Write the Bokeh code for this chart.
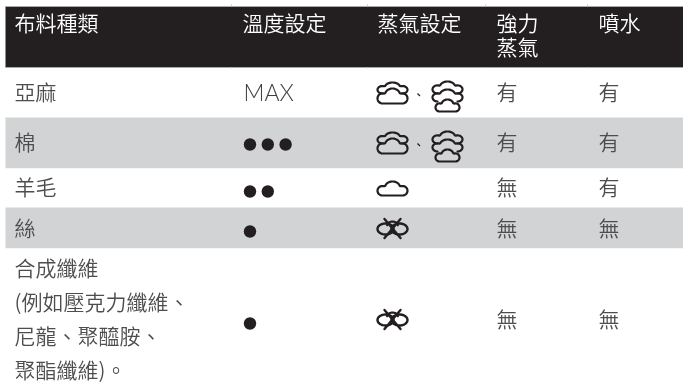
import numpy as np
from bokeh.plotting import figure
from bokeh.models import Range1d
from bokeh.core.properties import value
from bokeh.embed import file_html
from bokeh.resources import INLINE

# ---- table content
columns = ["布料種類", "溫度設定", "蒸氣設定", "強力\n蒸氣", "噴水"]
fabrics = [["亞麻"], ["棉"], ["羊毛"], ["絲"],
           ["合成纖維", "(例如壓克力纖維、", "尼龍、聚醯胺、", "聚酯纖維)。"]]
temperature_dots = [0, 3, 2, 1, 1]
temperature_text = ["MAX", "", "", "", ""]
steam_setting = ["both", "both", "low", "none", "none"]
burst = ["有", "有", "無", "無", "無"]
spray = ["有", "有", "有", "無", "無"]

# ---- layout
W, H = 683, 382
col_x = [14, 242, 377, 496, 598]
col_edges = [231, 367, 485, 587]
row_edges = [67, 117, 168, 207, 248, 382]
row_fill = ["#ffffff", "#d1d3d4", "#ffffff", "#d1d3d4", "#ffffff"]
row_y = [92, 142, 187, 228, 319]
dot_y = [94, 144, 191, 231, 323]
header_top = 6
DARK = "#231f20"
TXT = "#4d4d4f"
CJK = value("Noto Sans CJK TC DemiLight")
FS = "21px"

p = figure(width=W, height=H, output_backend="svg", toolbar_location=None,
           x_range=Range1d(0, W), y_range=Range1d(H, 0), min_border=0,
           outline_line_color=None, background_fill_color="#ffffff")
p.axis.visible = False
p.grid.visible = False
p.styles = {"position": "fixed", "left": "0px", "top": "0px"}

# backgrounds
p.quad(left=5, right=W, top=header_top, bottom=row_edges[0], color=DARK, line_color=None)
p.quad(left=[5] * 5, right=[W] * 5, top=row_edges[:-1], bottom=row_edges[1:],
       color=row_fill, line_color=None)
p.segment(x0=[5, 5], x1=[W, W], y0=[header_top, row_edges[0]], y1=[header_top, row_edges[0]],
          line_color="#a7a9ac", line_width=1)
p.segment(x0=col_edges * 2, x1=col_edges * 2,
          y0=[header_top - 2] * 4 + [row_edges[0]] * 4,
          y1=[header_top] * 4 + [row_edges[0] + 1] * 4,
          line_color="#c8c8c8", line_width=1)


def txt(xs, ys, ss, color=TXT, font=CJK, size=FS):
    p.text(x=xs, y=ys, text=ss, text_color=color, text_font=font, text_font_size=size,
           text_align="left", text_baseline="middle")


# header
hx, hy, hs = [], [], []
for x, c in zip(col_x, columns):
    for i, line in enumerate(c.split("\n")):
        hx.append(x); hy.append(21 + i * 24.5); hs.append(line)
txt(hx, hy, hs, color="#ffffff")

# fabric column
fx, fy, fs = [], [], []
for y, lines in zip(row_y, fabrics):
    n = len(lines)
    for i, line in enumerate(lines):
        fx.append(col_x[0]); fy.append(y - 2 + (i - (n - 1) / 2) * 34); fs.append(line)
txt(fx, fy, fs)

# temperature
for y, t in zip(row_y, temperature_text):
    if t:
        txt([col_x[1] + 1], [y - 1], [t], font=value("Lato Light"), size="23px", color="#3f3f41")
dx, dy = [], []
for y, n in zip(dot_y, temperature_dots):
    for i in range(n):
        dx.append(243 + 6.5 + i * 17.8); dy.append(y)
p.circle(x=dx, y=dy, radius=6.2, color=DARK, line_color=None)

# burst / spray
by = [y - 2 for y in row_y]
txt([col_x[3]] * 5, by, burst)
txt([col_x[4]] * 5, by, spray)


# icons
def arc(cx, cy, rx, ry, a0, a1, n=18):
    t = np.radians(np.linspace(a0, a1, n))
    return cx + rx * np.cos(t), cy + ry * np.sin(t)


def cap(cx, y, w, h):
    """Upper silhouette of a cloud: side lobes and a centre bump; y is the lobes' bottom."""
    k = w / 30
    a = arc(cx - 10 * k, y - .34 * h, 5 * k, .34 * h, 90, 290)
    b = arc(cx, y - .58 * h, 7.5 * k, .42 * h, 195, 345)
    c = arc(cx + 10 * k, y - .34 * h, 5 * k, .34 * h, 250, 450)
    return np.r_[a[0], b[0], c[0]], np.r_[a[1], b[1], c[1]]


def cloud(cx, y, w, h):
    xs, ys = cap(cx, y, w, h)
    return np.r_[xs, xs[0]], np.r_[ys, ys[0]]


def draw(xs, ys, lw=2.2):
    p.line(x=xs, y=ys, line_color=DARK, line_width=lw, line_join="round", line_cap="round")


def icon_low(cx, y):
    draw(*cloud(cx, y + 8, 30, 14))


def icon_medium(cx, y):
    draw(*cloud(cx, y + 11, 30, 15))
    draw(*cap(cx, y + 1, 30, 11))


def icon_high(cx, y):
    draw(*cap(cx, y + 1, 30, 12))
    draw(*cap(cx, y + 9, 30, 12))
    draw(*cloud(cx, y + 19, 24, 12))


def icon_none(cx, y):
    t = np.radians(np.linspace(0, 360, 40))
    for s in (-1, 1):
        draw(cx + s * 7 + 8 * np.cos(t), y + .5 + 5.5 * np.sin(t), 2.4)
        draw(np.array([cx - 8, cx + 8]), np.array([y - 9.5 * s, y + 9.5 * s]), 2.4)
    draw(*arc(cx, y - 2.5, 5.5, 4.5, 190, 350, 10))


for y, st in zip(row_y, steam_setting):
    x0 = col_x[2] + 15
    if st == "both":
        icon_medium(x0, y)
        icon_high(x0 + 55, y)
        p.segment(x0=[x0 + 25], y0=[y + 1], x1=[x0 + 27.5], y1=[y + 3.5], line_color=DARK, line_width=1.3)
    elif st == "low":
        icon_low(x0, y)
    else:
        icon_none(x0, y)

open("out.html", "w").write(file_html(p, INLINE))
